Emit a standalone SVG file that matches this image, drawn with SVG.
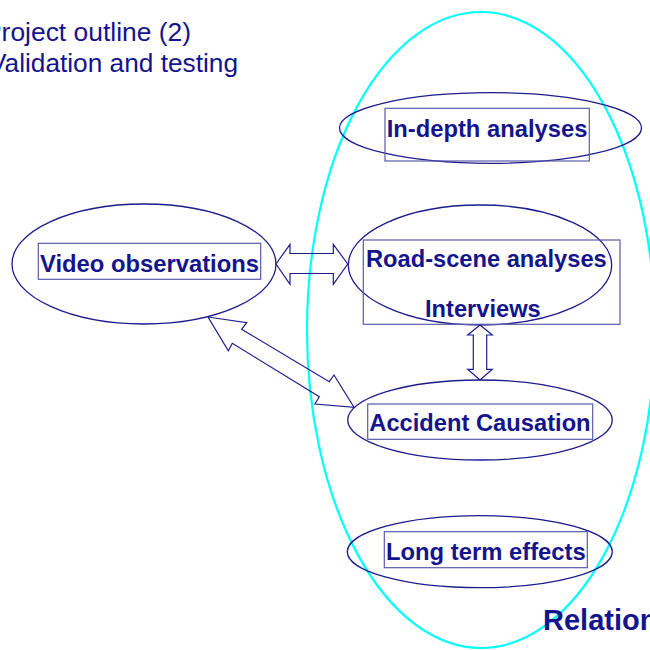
<svg xmlns="http://www.w3.org/2000/svg" width="650" height="650" viewBox="0 0 650 650">
  <style>
    .title { font-family: "Liberation Sans", Arial, sans-serif; font-size: 26px; fill: #14148c; }
    .label { font-family: "Liberation Sans", Arial, sans-serif; font-size: 24px; font-weight: bold; fill: #14148c; text-anchor: start; }
    .oval { fill: none; stroke: #1c1c8c; stroke-width: 1.3; }
    .box { fill: none; stroke: #5a5aaa; stroke-width: 1.2; }
    .arrow { fill: none; stroke: #1c1c8c; stroke-width: 1.2; stroke-linejoin: miter; }
    .scope { fill: none; stroke: #00ffff; stroke-width: 2.2; }
  </style>

  <rect x="0" y="0" width="650" height="650" fill="#ffffff"/>

  <!-- Heading -->
  <g id="heading">
    <text class="title" x="-16" y="41" textLength="207" lengthAdjust="spacingAndGlyphs">Project outline (2)</text>
    <text class="title" x="-11" y="72" textLength="249" lengthAdjust="spacingAndGlyphs">Validation and testing</text>
  </g>

  <!-- Large enclosing oval -->
  <g id="scope">
    <ellipse class="scope" cx="481" cy="330" rx="174" ry="318"/>
  </g>

  <g id="in-depth">
    <ellipse class="oval" cx="490.5" cy="128" rx="151" ry="35.3"/>
    <rect class="box" x="385" y="108.3" width="204.3" height="52.7"/>
    <text class="label" x="386.7" y="136.7" textLength="200.7" lengthAdjust="spacingAndGlyphs">In-depth analyses</text>
  </g>

  <g id="video">
    <ellipse class="oval" cx="144" cy="264" rx="132" ry="60"/>
    <rect class="box" x="38.3" y="243.3" width="222.4" height="36"/>
    <text class="label" x="40" y="271.7" textLength="219" lengthAdjust="spacingAndGlyphs">Video observations</text>
  </g>

  <g id="road-scene">
    <ellipse class="oval" cx="480" cy="265" rx="131.7" ry="60"/>
    <rect class="box" x="363.3" y="240" width="256.7" height="84.3"/>
    <text class="label" x="366" y="266.7" textLength="240.7" lengthAdjust="spacingAndGlyphs">Road-scene analyses</text>
    <text class="label" x="425" y="316.7" textLength="115.7" lengthAdjust="spacingAndGlyphs">Interviews</text>
  </g>

  <g id="accident">
    <ellipse class="oval" cx="480" cy="420" rx="132.3" ry="40"/>
    <rect class="box" x="367.7" y="404" width="225" height="35.3"/>
    <text class="label" x="369.3" y="431" textLength="221.3" lengthAdjust="spacingAndGlyphs">Accident Causation</text>
  </g>

  <g id="long-term">
    <ellipse class="oval" cx="479.8" cy="551.7" rx="132.5" ry="36"/>
    <rect class="box" x="384.3" y="531.7" width="203" height="36"/>
    <text class="label" x="386" y="560" textLength="199.7" lengthAdjust="spacingAndGlyphs">Long term effects</text>
  </g>

  <!-- Two-headed block arrows -->
  <g id="connectors">
    <polygon class="arrow" points="276,264 290,244.3 290,253.5 333.3,253.5 333.3,244.3 347.7,264 333.3,284.3 333.3,273.5 290,273.5 290,284.3"/>
    <polygon class="arrow" points="480,325 492.3,335 486.7,335 486.7,369.3 492.3,369.3 480,380 467.7,369.3 473.3,369.3 473.3,335 467.7,335"/>
    <polygon class="arrow" points="208,317 246.7,322.7 241.7,329.3 329.3,381.7 334,375 354,407.3 315,404 319.3,396.7 232.3,343.3 228.3,350.7"/>
  </g>

  <g id="caption">
    <text class="label" x="543" y="629.5" style="font-size:29px">Relation</text>
  </g>
</svg>
